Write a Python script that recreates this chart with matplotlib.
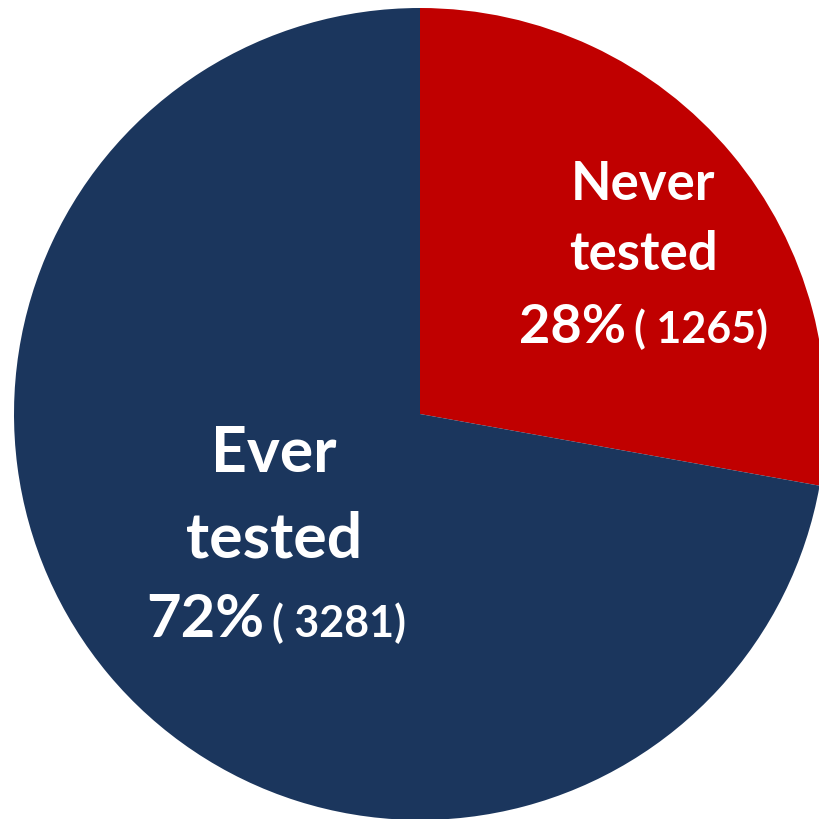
import matplotlib
matplotlib.use("Agg")
import matplotlib.pyplot as plt

# data
labels = ["Never\ntested", "Ever\ntested"]
counts = [1265, 3281]
colors = ["#C00000", "#1B365D"]

total = sum(counts)
pcts = [round(100 * c / total) for c in counts]

plt.rcParams['font.family'] = ['Lato', 'DejaVu Sans']

fig = plt.figure(figsize=(8.19, 8.19), dpi=100)
ax = fig.add_axes([0, 0, 1, 1])

# pie in pixel-like coords, centre a bit right of the middle
ax.pie(counts, colors=colors, startangle=90, counterclock=False,
       center=(420, 405), radius=406, frame=True,
       wedgeprops=dict(linewidth=0))
ax.set_xlim(0, 819)
ax.set_ylim(0, 819)
ax.set_aspect('equal')
ax.axis('off')

# label placement: centre x, baselines of the three lines, split x of last line
label_pos = [(643, [619, 549, 476], 626), (274, [347, 261, 182], 264)]
name_size = [38, 45]
pct_size = [39, 43]
n_size = [31, 31]

for i in range(len(counts)):
    x, ys, split = label_pos[i]
    word1, word2 = labels[i].split("\n")
    ax.text(x, ys[0], word1, ha='center', va='baseline', color='white',
            fontsize=name_size[i], fontweight='bold')
    ax.text(x, ys[1], word2, ha='center', va='baseline', color='white',
            fontsize=name_size[i], fontweight='bold')
    ax.text(split, ys[2], f"{pcts[i]}%", ha='right', va='baseline', color='white',
            fontsize=pct_size[i], fontweight='bold')
    ax.text(split + 8, ys[2], f"( {counts[i]})", ha='left', va='baseline', color='white',
            fontsize=n_size[i], fontweight='bold')

fig.savefig("out.png", dpi=100)
